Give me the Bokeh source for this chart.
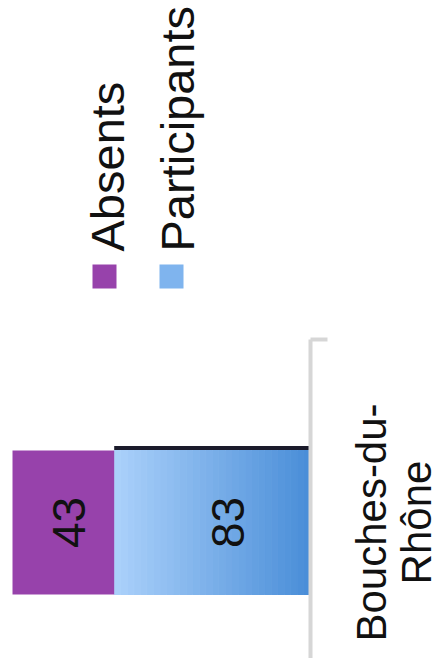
from math import pi
from bokeh.plotting import figure
from bokeh.models import Range1d
from bokeh.core.properties import value
from bokeh.embed import file_html
from bokeh.resources import INLINE

# ---- data ----
categories = ["Bouches-du-Rhône"]
category_label_lines = ["Bouches-du-", "Rhône"]
series_names = ["Participants", "Absents"]
participants = [83]
absents = [43]

# ---- styles ----
PURPLE = "#9742ab"
BLUE_LIGHT = (170, 208, 250)
BLUE_DARK = (74, 142, 216)
AXIS_GREY = "#d6d6d6"
FONT = "Liberation Sans"

# screen mapping helpers (layout only)
SX = 2.365   # px per value unit
X0_PX = 310  # screen x of value 0
SY = 366     # px per category unit
Y0_PX = 522  # screen y of the category centre


def xd(px):
    return (X0_PX - px) / SX


def yd(py):
    return (Y0_PX - py) / SY


W, H = 442, 658
p = figure(width=W, height=H, output_backend="svg", toolbar_location=None,
           x_range=Range1d(start=xd(0), end=xd(W)),
           y_range=Range1d(start=yd(H), end=yd(0)),
           x_axis_location=None, y_axis_location=None, min_border=0)
p.grid.visible = False
p.outline_line_color = None
p.background_fill_color = "white"
p.border_fill_color = "white"

ypos = list(range(len(categories)))
bar_h = 144 / SY

# participants bar with a gradient (light at the high-value end)
N = 30
for i, (cat_y, v) in enumerate(zip(ypos, participants)):
    for k in range(N):
        t = k / (N - 1)
        c = tuple(int(round(BLUE_DARK[j] + (BLUE_LIGHT[j] - BLUE_DARK[j]) * t)) for j in range(3))
        col = "#%02x%02x%02x" % c
        p.hbar(y=[cat_y], left=[v * k / N], right=[v * (k + 1) / N], height=bar_h,
               fill_color=col, line_color=col, line_width=1)

# absents stacked on top
p.hbar(y=ypos, left=participants, right=[a + b for a, b in zip(participants, absents)],
       height=bar_h, fill_color=PURPLE, line_color=None)

# dark edge on participants segment
p.segment(x0=[0] * len(ypos), x1=participants,
          y0=[y + bar_h / 2 + 2.5 / SY for y in ypos], y1=[y + bar_h / 2 + 2.5 / SY for y in ypos],
          line_color="#1b1b2b", line_width=4)

# value labels
p.text(x=[v / 2 for v in participants], y=ypos, text=[str(v) for v in participants],
       angle=pi / 2, text_align="center", text_baseline="middle", x_offset=16,
       text_font=value(FONT), text_font_size="46px", text_color="#111111")
p.text(x=[a + b / 2 for a, b in zip(participants, absents)], y=ypos, text=[str(v) for v in absents],
       angle=pi / 2, text_align="center", text_baseline="middle", x_offset=6,
       text_font=value(FONT), text_font_size="46px", text_color="#111111")

# category axis line and boundary tick
band_top = 0.5
p.segment(x0=[0], x1=[0], y0=[yd(H)], y1=[band_top], line_color=AXIS_GREY, line_width=4)
p.segment(x0=[0], x1=[xd(327)], y0=[band_top], y1=[band_top], line_color=AXIS_GREY, line_width=4)

# category label (two lines, rotated)
for line, bx in zip(category_label_lines, [371, 416]):
    p.text(x=[xd(bx)], y=[ypos[0]], text=[line], angle=pi / 2,
           text_align="center", text_baseline="alphabetic",
           text_font=value(FONT), text_font_size="42px", text_color="#111111")

# legend (rotated)
legend_items = [("Absents", PURPLE, 104, 107), ("Participants", "#7fb4ee", 171, 177)]
for name, col, sw_x, base_x in legend_items:
    p.rect(x=[xd(sw_x)], y=[yd(276)], width=24, height=24, width_units="screen",
           height_units="screen", fill_color=col, line_color=None)
    p.text(x=[xd(base_x)], y=[yd(251)], text=[name], angle=pi / 2,
           text_align="left", text_baseline="alphabetic",
           text_font=value(FONT), text_font_size="47px", text_color="#111111")

open("out.html", "w").write(file_html(p, INLINE))
